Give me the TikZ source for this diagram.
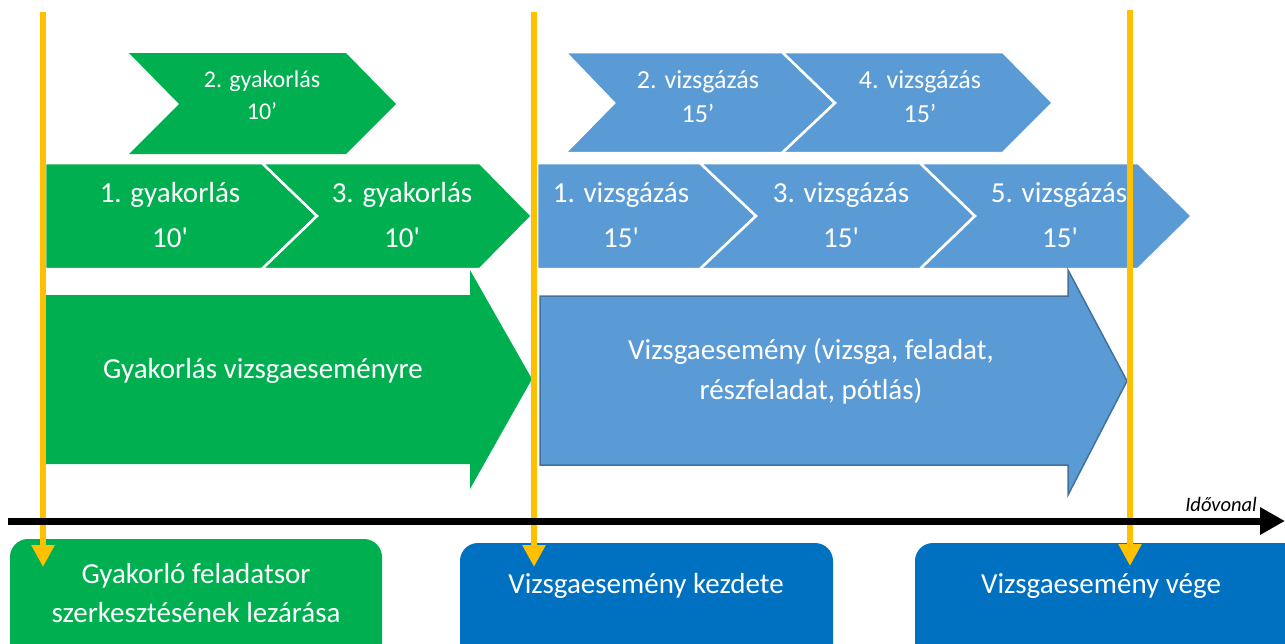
\documentclass[tikz,border=0pt]{standalone}
\usepackage{fontspec}
\newfontfamily\calfont{Carlito}
\usetikzlibrary{arrows.meta}
\definecolor{gr}{HTML}{00B050}
\definecolor{lb}{HTML}{5B9BD5}
\definecolor{lbo}{HTML}{41719C}
\definecolor{db}{HTML}{0070C0}
\definecolor{yel}{HTML}{FFC000}
\tikzset{
  big/.style={font=\calfont\fontsize{29}{35}\selectfont, text=white, anchor=base, inner sep=0pt},
  smallg/.style={font=\calfont\fontsize{24}{29}\selectfont, text=white, anchor=base, inner sep=0pt},
  smallb/.style={font=\calfont\fontsize{26}{31}\selectfont, text=white, anchor=base, inner sep=0pt},
  chev/.style={draw=white, line width=2.5pt, line join=miter},
  marker/.style={draw=yel, line width=6pt, -{Triangle[length=22pt,width=22pt]}},
  timeline/.style={draw=black, line width=7pt, -{Triangle[length=25pt,width=26pt]}},
  boxshape/.style={rounded corners=18pt}
}
\begin{document}
\begin{tikzpicture}[x=1pt,y=-1pt]
\useasboundingbox (0,0) rectangle (1285,643);
\clip (0,0) rectangle (1285,643);
% top row
\fill[gr] (129,53) -- (346,53) -- (396,104) -- (346,154) -- (129,154) -- (179,104) -- cycle;
\filldraw[fill=lb,chev] (565,52) -- (782,52) -- (835,103) -- (782,153) -- (565,153) -- (614,103) -- cycle;
\filldraw[fill=lb,chev] (782,52) -- (1003,52) -- (1053,103) -- (1003,153) -- (782,153) -- (835,103) -- cycle;
% second row green
\filldraw[fill=gr,chev] (45,163) -- (262,163) -- (317,216) -- (262,269) -- (45,269) -- cycle;
\filldraw[fill=gr,chev] (262,163) -- (480,163) -- (532,216) -- (480,269) -- (262,269) -- (317,216) -- cycle;
% second row blue
\filldraw[fill=lb,chev] (537,163) -- (700,163) -- (756,216) -- (700,269) -- (537,269) -- cycle;
\filldraw[fill=lb,chev] (700,163) -- (920,163) -- (975,216) -- (920,269) -- (700,269) -- (756,216) -- cycle;
\filldraw[fill=lb,chev] (920,163) -- (1138,163) -- (1192,216) -- (1138,269) -- (920,269) -- (975,216) -- cycle;
% big arrows
\fill[gr] (45,295) -- (470,295) -- (470,270) -- (532,379) -- (470,489) -- (470,464) -- (45,464) -- cycle;
\filldraw[fill=lb, draw=lbo, line width=1.5pt] (540,296) -- (1068,296) -- (1068,270) -- (1127,381) -- (1068,495) -- (1068,465) -- (540,465) -- cycle;
% bottom boxes
\fill[gr, boxshape] (10,539) rectangle (382,670);
\fill[db, boxshape] (460,543) rectangle (833,670);
\fill[db, boxshape] (915,543) rectangle (1310,670);
% texts
\node[smallg] (g2a) at (262,87) {2. gyakorlás};
\node[smallg] (g2b) at (262,119) {10’};
\node[smallb] (v2a) at (698,88) {2. vizsgázás};
\node[smallb] (v2b) at (698,122) {15’};
\node[smallb] (v4a) at (920,88) {4. vizsgázás};
\node[smallb] (v4b) at (920,122) {15’};
\node[big] (g1a) at (170,202) {1. gyakorlás};
\node[big] (g1b) at (170,247) {10'};
\node[big] (g3a) at (402,202) {3. gyakorlás};
\node[big] (g3b) at (402,247) {10'};
\node[big] (v1a) at (621,202) {1. vizsgázás};
\node[big] (v1b) at (621,247) {15'};
\node[big] (v3a) at (841,202) {3. vizsgázás};
\node[big] (v3b) at (841,247) {15'};
\node[big] (v5a) at (1059,202) {5. vizsgázás};
\node[big] (v5b) at (1060,247) {15'};
\node[big] (gbig) at (263,378) {Gyakorlás vizsgaeseményre};
\node[big] (vbig1) at (811,359) {Vizsgaesemény (vizsga, feladat,};
\node[big] (vbig2) at (811,399) {részfeladat, pótlás)};
\node[big] (bx1a) at (196,583) {Gyakorló feladatsor};
\node[big] (bx1b) at (196,622) {szerkesztésének lezárása};
\node[big] (bx2) at (646,593) {Vizsgaesemény kezdete};
\node[big] (bx3) at (1101,593) {Vizsgaesemény vége};
\node[font=\calfont\itshape\fontsize{20.5}{24}\selectfont, anchor=base east, inner sep=0pt] (tl) at (1257,511) {Idővonal};
% yellow markers
\coordinate (y1s) at (43,12);  \coordinate (y1e) at (43,567);
\coordinate (y2s) at (534,12); \coordinate (y2e) at (534,567);
\coordinate (y3s) at (1130,10); \coordinate (y3e) at (1130,566);
\draw[marker] (y1s) -- (y1e);
\draw[marker] (y2s) -- (y2e);
\draw[marker] (y3s) -- (y3e);
% timeline
\coordinate (tA) at (8,521); \coordinate (tB) at (1285,521);
\draw[timeline] (tA) -- (tB);
\end{tikzpicture}
\end{document}
